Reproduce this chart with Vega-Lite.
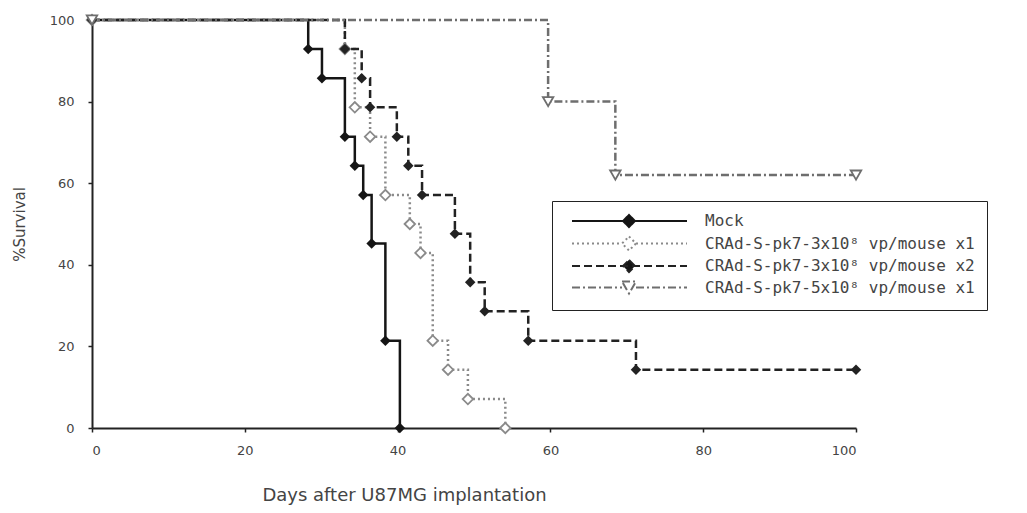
{
  "$schema": "https://vega.github.io/schema/vega-lite/v6.json",
  "width": 764,
  "height": 408,
  "autosize": {"type": "none"},
  "padding": {"left": 92, "top": 20, "right": 171, "bottom": 85},
  "background": "white",
  "config": {
    "view": {"stroke": null},
    "axis": {
      "grid": false,
      "domainColor": "#222",
      "domainWidth": 2,
      "tickColor": "#222",
      "tickSize": 4,
      "tickWidth": 1.5,
      "labelFont": "DejaVu Sans",
      "labelFontSize": 13,
      "labelColor": "#444",
      "titleFont": "DejaVu Sans",
      "titleFontWeight": "normal",
      "titleColor": "#444"
    }
  },
  "data": {
    "values": [
      {"series": "Mock", "day": 0, "surv": 100},
      {"series": "Mock", "day": 28.3, "surv": 92.9},
      {"series": "Mock", "day": 30.1, "surv": 85.7},
      {"series": "Mock", "day": 33.1, "surv": 71.4},
      {"series": "Mock", "day": 34.4, "surv": 64.3},
      {"series": "Mock", "day": 35.5, "surv": 57.1},
      {"series": "Mock", "day": 36.6, "surv": 45.2},
      {"series": "Mock", "day": 38.4, "surv": 21.4},
      {"series": "Mock", "day": 40.3, "surv": 0},
      {"series": "CRAd-S-pk7-3x10⁸ vp/mouse x1", "day": 0, "surv": 100},
      {"series": "CRAd-S-pk7-3x10⁸ vp/mouse x1", "day": 33.1, "surv": 92.9},
      {"series": "CRAd-S-pk7-3x10⁸ vp/mouse x1", "day": 34.4, "surv": 78.6},
      {"series": "CRAd-S-pk7-3x10⁸ vp/mouse x1", "day": 36.4, "surv": 71.4},
      {"series": "CRAd-S-pk7-3x10⁸ vp/mouse x1", "day": 38.4, "surv": 57.1},
      {"series": "CRAd-S-pk7-3x10⁸ vp/mouse x1", "day": 41.6, "surv": 50},
      {"series": "CRAd-S-pk7-3x10⁸ vp/mouse x1", "day": 43, "surv": 42.9},
      {"series": "CRAd-S-pk7-3x10⁸ vp/mouse x1", "day": 44.6, "surv": 21.4},
      {"series": "CRAd-S-pk7-3x10⁸ vp/mouse x1", "day": 46.6, "surv": 14.3},
      {"series": "CRAd-S-pk7-3x10⁸ vp/mouse x1", "day": 49.2, "surv": 7.1},
      {"series": "CRAd-S-pk7-3x10⁸ vp/mouse x1", "day": 54.1, "surv": 0},
      {"series": "CRAd-S-pk7-3x10⁸ vp/mouse x2", "day": 0, "surv": 100},
      {"series": "CRAd-S-pk7-3x10⁸ vp/mouse x2", "day": 33.1, "surv": 92.9},
      {"series": "CRAd-S-pk7-3x10⁸ vp/mouse x2", "day": 35.3, "surv": 85.7},
      {"series": "CRAd-S-pk7-3x10⁸ vp/mouse x2", "day": 36.4, "surv": 78.6},
      {"series": "CRAd-S-pk7-3x10⁸ vp/mouse x2", "day": 39.9, "surv": 71.4},
      {"series": "CRAd-S-pk7-3x10⁸ vp/mouse x2", "day": 41.4, "surv": 64.3},
      {"series": "CRAd-S-pk7-3x10⁸ vp/mouse x2", "day": 43.2, "surv": 57.1},
      {"series": "CRAd-S-pk7-3x10⁸ vp/mouse x2", "day": 47.5, "surv": 47.6},
      {"series": "CRAd-S-pk7-3x10⁸ vp/mouse x2", "day": 49.5, "surv": 35.7},
      {"series": "CRAd-S-pk7-3x10⁸ vp/mouse x2", "day": 51.4, "surv": 28.6},
      {"series": "CRAd-S-pk7-3x10⁸ vp/mouse x2", "day": 57.1, "surv": 21.4},
      {"series": "CRAd-S-pk7-3x10⁸ vp/mouse x2", "day": 71.2, "surv": 14.3},
      {"series": "CRAd-S-pk7-3x10⁸ vp/mouse x2", "day": 100, "surv": 14.3},
      {"series": "CRAd-S-pk7-5x10⁸ vp/mouse x1", "day": 0, "surv": 100},
      {"series": "CRAd-S-pk7-5x10⁸ vp/mouse x1", "day": 59.7, "surv": 80},
      {"series": "CRAd-S-pk7-5x10⁸ vp/mouse x1", "day": 68.5, "surv": 62},
      {"series": "CRAd-S-pk7-5x10⁸ vp/mouse x1", "day": 100, "surv": 62}
    ]
  },
  "encoding": {
    "x": {
      "field": "day",
      "type": "quantitative",
      "scale": {"domain": [0, 100], "nice": false},
      "axis": {
        "values": [0, 20, 40, 60, 80, 100],
        "title": "Days after U87MG implantation",
        "titleFontSize": 18,
        "titleX": 312,
        "titleY": 58,
        "labelPadding": 12
      }
    },
    "y": {
      "field": "surv",
      "type": "quantitative",
      "scale": {"domain": [0, 100], "nice": false},
      "axis": {
        "values": [0, 20, 40, 60, 80, 100],
        "title": "%Survival",
        "titleFontSize": 15,
        "titlePadding": 22,
        "labelPadding": 14
      }
    }
  },
  "layer": [
    {
      "mark": {"type": "line", "interpolate": "step-after", "strokeWidth": 2.5},
      "encoding": {
        "color": {
          "field": "series",
          "type": "nominal",
          "scale": {
            "domain": ["Mock", "CRAd-S-pk7-3x10⁸ vp/mouse x1", "CRAd-S-pk7-3x10⁸ vp/mouse x2", "CRAd-S-pk7-5x10⁸ vp/mouse x1"],
            "range": ["#151515", "#8a8a8a", "#222222", "#6e6e6e"]
          },
          "legend": {
            "orient": "none",
            "legendX": 460,
            "legendY": 181,
            "title": null,
            "padding": 12,
            "strokeColor": "#222",
            "fillColor": "white",
            "symbolSize": 4,
            "symbolStrokeWidth": 2,
            "labelOffset": 125,
            "labelFont": "DejaVu Sans Mono",
            "labelFontSize": 16,
            "labelColor": "#444",
            "labelLimit": 400,
            "rowPadding": 1.5,
            "encode": {
              "symbols": {
                "update": {
                  "shape": {"signal": "datum.index === 3 ? 'M0,0L50,0M64,0L115,0M50,-6L64,-6L57,6Z' : (datum.index === 1 ? 'M0,0L50,0M64,0L115,0M57,-7L64,0L57,7L50,0Z' : 'M0,0L115,0M57,-6L63,0L57,6L51,0Z')"},
                  "size": {"value": 4},
                  "fill": {"signal": "datum.index === 0 || datum.index === 2 ? '#151515' : 'white'"},
                  "stroke": {"signal": "datum.index === 0 ? '#151515' : (datum.index === 1 ? '#8a8a8a' : (datum.index === 2 ? '#222222' : '#6e6e6e'))"},
                  "strokeDash": {"signal": "datum.index === 0 ? [1,0] : (datum.index === 1 ? [2,3] : (datum.index === 2 ? [8,4] : [8,3,2,3]))"},
                  "strokeWidth": {"value": 2},
                  "opacity": {"value": 1}
                }
              }
            }
          }
        },
        "strokeDash": {
          "field": "series",
          "type": "nominal",
          "scale": {
            "domain": ["Mock", "CRAd-S-pk7-3x10⁸ vp/mouse x1", "CRAd-S-pk7-3x10⁸ vp/mouse x2", "CRAd-S-pk7-5x10⁸ vp/mouse x1"],
            "range": [[1, 0], [2, 3], [8, 4], [8, 3, 2, 3]]
          },
          "legend": null
        }
      }
    },
    {
      "transform": [{"filter": "datum.series === 'Mock'"}],
      "mark": {"type": "point", "shape": "diamond", "size": 110, "strokeWidth": 1.8, "opacity": 1, "filled": true, "color": "#151515"}
    },
    {
      "transform": [{"filter": "datum.series === 'CRAd-S-pk7-3x10⁸ vp/mouse x1'"}],
      "mark": {"type": "point", "shape": "diamond", "size": 110, "strokeWidth": 1.8, "opacity": 1, "fill": "white", "stroke": "#8a8a8a"}
    },
    {
      "transform": [{"filter": "datum.series === 'CRAd-S-pk7-3x10⁸ vp/mouse x2'"}],
      "mark": {"type": "point", "shape": "diamond", "size": 110, "strokeWidth": 1.8, "opacity": 1, "filled": true, "color": "#222222"}
    },
    {
      "transform": [{"filter": "datum.series === 'CRAd-S-pk7-5x10⁸ vp/mouse x1'"}],
      "mark": {"type": "point", "shape": "triangle-down", "size": 110, "strokeWidth": 1.8, "opacity": 1, "fill": "white", "stroke": "#6e6e6e"}
    }
  ]
}
